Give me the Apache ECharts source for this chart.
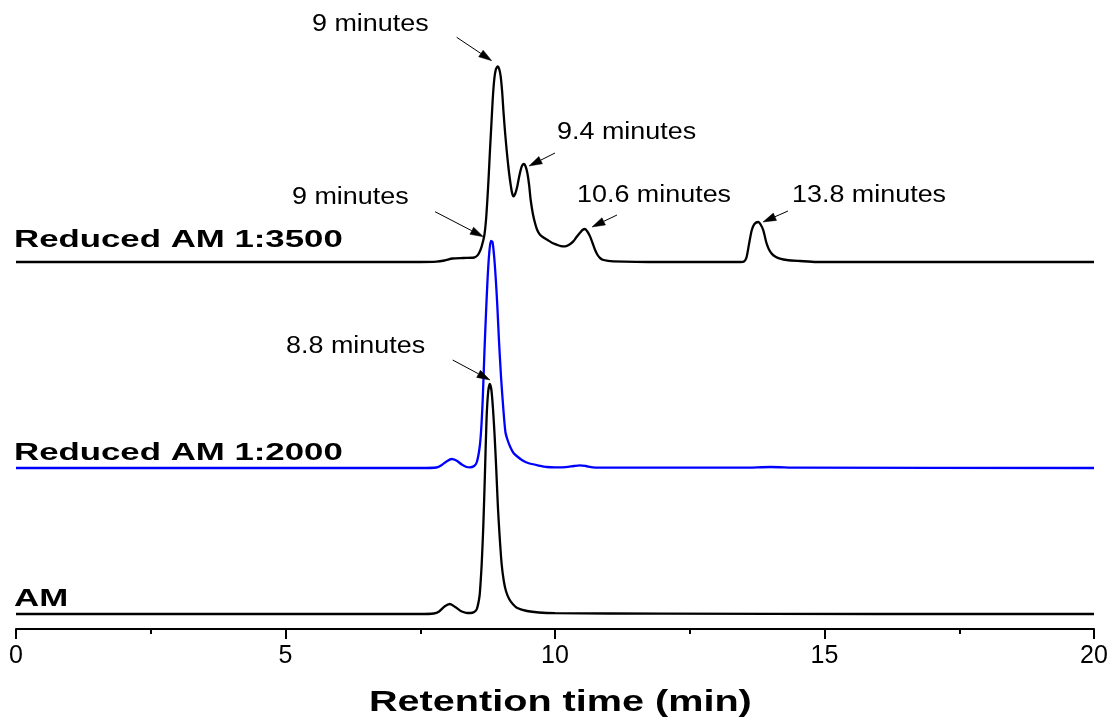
<!DOCTYPE html>
<html>
<head>
<meta charset="utf-8">
<script src="https://cdn.jsdelivr.net/npm/echarts@6/dist/echarts.min.js"></script>
<style>
  html, body { margin: 0; padding: 0; background: #fff; }
  #chart { width: 1112px; height: 722px; }
</style>
</head>
<body>
<div id="chart"></div>
<script>
// ---------------- DATA ----------------
// x axis: retention time (min)
const xTicks = [0, 5, 10, 15, 20];

// Trace names
const traceNames = ['Reduced AM 1:3500', 'Reduced AM 1:2000', 'AM'];

// Vertical stacking offsets of each trace (signal units, hidden y axis)
const traceOffsets = [367, 161, 15];

// Reduced AM 1:3500 (black, top)
const time3500 = [0, 7.5, 7.8, 7.95, 8.1, 8.3, 8.5, 8.56, 8.6, 8.64, 8.69, 8.72, 8.745, 8.77, 8.794, 8.82, 8.844, 8.87, 8.9, 8.937, 8.965, 8.992, 9.02, 9.042, 9.07, 9.103, 9.135, 9.165, 9.2, 9.227, 9.26, 9.3, 9.33, 9.363, 9.39, 9.425, 9.455, 9.487, 9.52, 9.549, 9.59, 9.629, 9.67, 9.722, 9.8, 9.876, 9.95, 10.03, 10.11, 10.19, 10.27, 10.34, 10.4, 10.46, 10.51, 10.557, 10.6, 10.65, 10.7, 10.742, 10.79, 10.835, 10.9, 11.08, 12, 13.45, 13.5, 13.55, 13.6, 13.65, 13.7, 13.772, 13.82, 13.865, 13.9, 13.927, 13.97, 14.02, 14.1, 14.174, 14.3, 14.545, 14.855, 20];
const signal3500 = [0, 0, 0.3, 1.5, 3.5, 4, 4.5, 6.5, 10, 15.6, 27, 42, 62, 86, 112, 138, 162, 181, 192, 195.6, 193, 185.6, 170, 152, 132, 112, 95, 82, 70, 65.6, 68, 75.6, 84, 92, 96.5, 98, 95.5, 89, 77, 62, 48, 39, 32, 27.3, 24, 21.6, 19, 17.3, 15.8, 15.6, 17.5, 20.6, 25, 29, 32, 33, 30.5, 25.6, 18.5, 12.3, 7, 4, 2, 0.7, 0, 0, 0.3, 4, 18, 31.7, 38, 40, 37, 31.7, 24, 18.4, 12.5, 8.4, 5, 3.4, 2, 1, 0, 0];

// Reduced AM 1:2000 (blue, middle)
const time2000 = [0, 7.5, 7.8, 7.9, 8.0, 8.08, 8.17, 8.27, 8.36, 8.42, 8.5, 8.55, 8.6, 8.63, 8.66, 8.69, 8.72, 8.75, 8.78, 8.81, 8.84, 8.87, 8.9, 8.93, 8.96, 9.0, 9.04, 9.08, 9.12, 9.17, 9.23, 9.3, 9.4, 9.5, 9.7, 9.85, 10.0, 10.2, 10.35, 10.46, 10.57, 10.7, 11, 13.5, 14.0, 14.5, 20];
const signal2000 = [0, 0, 0.5, 3, 7, 9, 7.5, 3.5, 1, 0.7, 2, 6, 20, 38, 70, 115, 155, 190, 215, 227, 226, 212, 190, 162, 128, 90, 60, 36, 28, 21, 15, 11.5, 7.5, 5, 2.5, 1, 0.6, 0.8, 2, 2.7, 2, 0.7, 0.3, 0.3, 1, 0.3, 0];

// AM (black, bottom)
const timeAM = [0, 7.5, 7.75, 7.85, 7.95, 8.05, 8.15, 8.25, 8.35, 8.43, 8.5, 8.55, 8.6, 8.62, 8.64, 8.67, 8.7, 8.73, 8.76, 8.79, 8.82, 8.85, 8.88, 8.91, 8.94, 8.97, 9.01, 9.05, 9.09, 9.15, 9.22, 9.3, 9.48, 9.7, 10, 12, 16, 20];
const signalAM = [0, 0, 0.5, 2.5, 7.5, 10, 7, 3, 1.2, 1, 2, 5, 18, 32, 50, 88, 140, 195, 222, 230, 224, 205, 178, 145, 108, 80, 50, 33, 23, 15, 9.7, 6, 3, 1.5, 0.8, 0.3, 0, 0];

// Peak annotations
const annotTexts = ['9 minutes', '9.4 minutes', '9 minutes', '10.6 minutes', '13.8 minutes', '8.8 minutes'];
const arrowTips  = [[8.826, 568.3], [9.518, 463], [8.670, 392.3], [10.686, 402], [13.859, 407], [8.794, 249]];
const arrowTails = [[8.176, 591.7], [10.0, 476], [7.774, 417.3], [11.150, 414], [14.323, 418], [8.102, 269]];

const xAxisTitle = 'Retention time (min)';

// ---------------- LAYOUT / STYLE ----------------
const colors = ['#000000', '#0000ff', '#000000'];
const annotTextPos = [[312, 25], [557, 133], [292, 197.5], [577, 196], [792, 196], [286, 347]];
const traceLabelPos = [[14, 240], [14, 453.5], [14, 599]];
const titlePos = [369, 702.5];

function zip(ts, vs, off) {
  return ts.map((t, i) => [t, vs[i] + off]);
}

const chart = echarts.init(document.getElementById('chart'), null, { renderer: 'canvas' });

const series = [
  { name: traceNames[0], t: time3500, v: signal3500 },
  { name: traceNames[1], t: time2000, v: signal2000 },
  { name: traceNames[2], t: timeAM, v: signalAM }
].map((s, i) => ({
  type: 'line',
  name: s.name,
  data: zip(s.t, s.v, traceOffsets[i]),
  showSymbol: false,
  symbol: 'none',
  smooth: 0.25,
  lineStyle: { color: colors[i], width: 2.3 },
  itemStyle: { color: colors[i] },
  z: 2 + i,
  animation: false
}));

chart.setOption({
  animation: false,
  backgroundColor: '#ffffff',
  grid: { left: 16, right: 18, top: 29, bottom: 93, containLabel: false },
  xAxis: {
    type: 'value',
    min: xTicks[0],
    max: xTicks[xTicks.length - 1],
    interval: xTicks[1] - xTicks[0],
    axisLine: { show: true, onZero: false, lineStyle: { color: '#000', width: 2 } },
    axisTick: { show: true, length: 10, inside: false, lineStyle: { color: '#000', width: 2 } },
    minorTick: { show: true, splitNumber: 2, length: 5, lineStyle: { color: '#000', width: 2 } },
    splitLine: { show: false },
    axisLabel: {
      color: '#000',
      fontFamily: '"Liberation Sans", Arial, sans-serif',
      fontSize: 25,
      margin: 15
    }
  },
  yAxis: {
    type: 'value',
    min: 0,
    max: 600,
    show: false,
    splitLine: { show: false }
  },
  series: series
});

// ---------------- annotations (text + arrows) ----------------
const graphics = [];
const annotFont = '23px "Liberation Sans", Arial, sans-serif';
annotTexts.forEach((txt, i) => {
  graphics.push({
    type: 'text',
    x: annotTextPos[i][0],
    y: annotTextPos[i][1],
    scaleX: 1.17,
    scaleY: 1,
    z: 10,
    style: {
      text: txt, x: 0, y: 0, font: annotFont, fill: '#000',
      align: 'left', verticalAlign: 'middle',
      textAlign: 'left', textVerticalAlign: 'middle'
    }
  });
  const p1 = chart.convertToPixel({ gridIndex: 0 }, arrowTails[i]);
  const p2 = chart.convertToPixel({ gridIndex: 0 }, arrowTips[i]);
  const dx = p2[0] - p1[0], dy = p2[1] - p1[1];
  const len = Math.sqrt(dx * dx + dy * dy);
  const ux = dx / len, uy = dy / len;
  const headLen = 13, headHalf = 4;
  const bx = p2[0] - ux * headLen, by = p2[1] - uy * headLen;
  graphics.push({
    type: 'line', z: 10,
    shape: { x1: p1[0], y1: p1[1], x2: bx, y2: by },
    style: { stroke: '#000', lineWidth: 1 }
  });
  graphics.push({
    type: 'polygon', z: 10,
    shape: { points: [[p2[0], p2[1]], [bx - uy * headHalf, by + ux * headHalf], [bx + uy * headHalf, by - ux * headHalf]] },
    style: { fill: '#000', stroke: '#000', lineWidth: 0.5 }
  });
});

const labelFont = 'bold 24px "Liberation Sans", Arial, sans-serif';
traceNames.forEach((name, i) => {
  graphics.push({
    type: 'text',
    x: traceLabelPos[i][0],
    y: traceLabelPos[i][1],
    scaleX: 1.45,
    scaleY: 1,
    z: 10,
    style: {
      text: name, x: 0, y: 0, font: labelFont, fill: '#000',
      align: 'left', verticalAlign: 'middle',
      textAlign: 'left', textVerticalAlign: 'middle'
    }
  });
});

graphics.push({
  type: 'text',
  x: titlePos[0],
  y: titlePos[1],
  scaleX: 1.32,
  scaleY: 1,
  z: 10,
  style: {
    text: xAxisTitle, x: 0, y: 0, font: 'bold 30px "Liberation Sans", Arial, sans-serif', fill: '#000',
    align: 'left', verticalAlign: 'middle',
    textAlign: 'left', textVerticalAlign: 'middle'
  }
});

chart.setOption({ graphic: graphics });
</script>
</body>
</html>
